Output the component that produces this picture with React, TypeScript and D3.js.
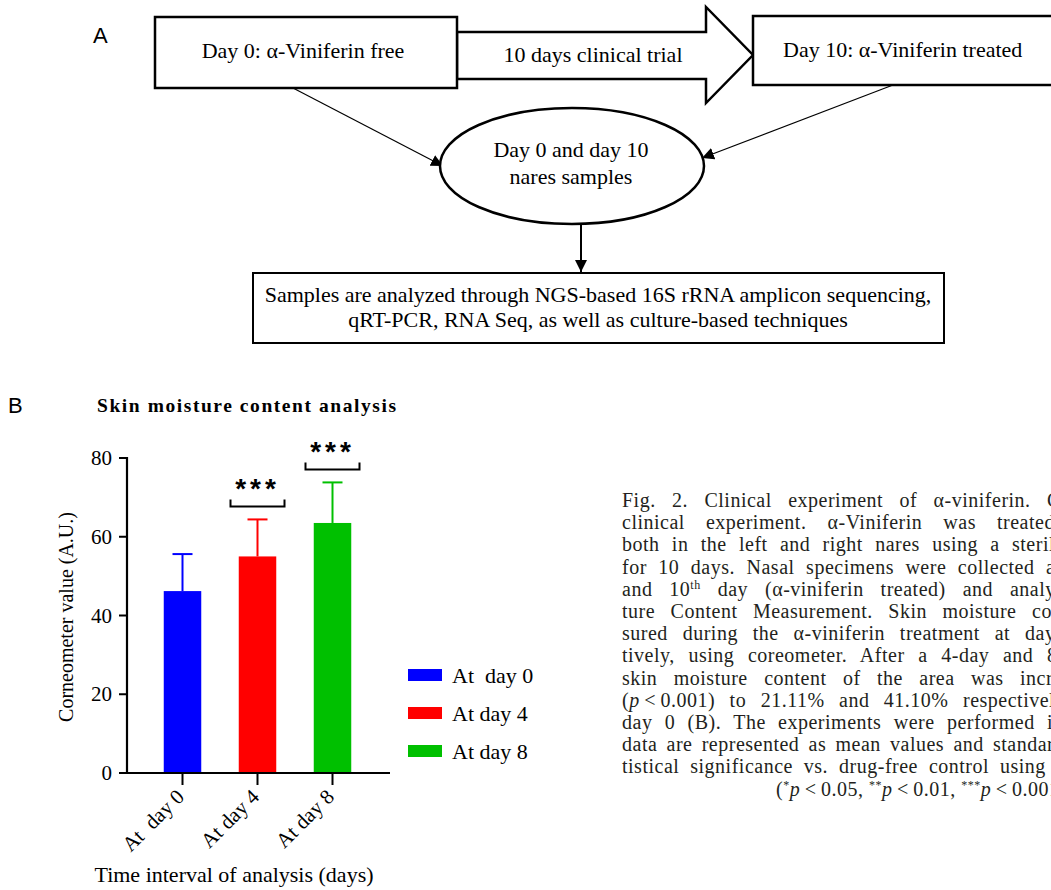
import React, { useEffect, useRef } from "react";
import * as d3 from "d3";

const categories = ["At  day 0", "At day 4", "At day 8"];
const legendLabels = ["At  day 0", "At day 4", "At day 8"];
const means = [46.2, 55.0, 63.5];
const sds = [9.4, 9.4, 10.3];
const barColors = ["#0000ff", "#ff0000", "#00c000"];
const yTicks = [0, 20, 40, 60, 80];
const sigPairs = [
  { idx: 1, label: "***" },
  { idx: 2, label: "***" },
];

const captionLines: { parts: { t: string; i?: boolean; sup?: boolean }[]; anchor: number | null; x?: number }[] = [
  { parts: [{ t: "Fig. 2. Clinical experiment of α-viniferin. Conceptual" }], anchor: 1047 },
  { parts: [{ t: "clinical experiment. α-Viniferin was treated" }], anchor: 997 },
  { parts: [{ t: "both in the left and right nares using a sterile" }], anchor: 1012 },
  { parts: [{ t: "for 10 days. Nasal specimens were collected at" }], anchor: 1046 },
  { parts: [{ t: "and 10" }, { t: "th", sup: true }, { t: " day (α-viniferin treated) and analyzed" }], anchor: 1010 },
  { parts: [{ t: "ture Content Measurement. Skin moisture content" }], anchor: 1032 },
  { parts: [{ t: "sured during the α-viniferin treatment at days" }], anchor: 1025 },
  { parts: [{ t: "tively, using coreometer. After a 4-day and 8-day" }], anchor: 1047 },
  { parts: [{ t: "skin moisture content of the area was increased" }], anchor: 1020 },
  { parts: [{ t: "(" }, { t: "p", i: true }, { t: "\u2009<\u20090.001) to 21.11% and 41.10% respectively" }], anchor: 963 },
  { parts: [{ t: "day 0 (B). The experiments were performed in" }], anchor: 1047 },
  { parts: [{ t: "data are represented as mean values and standard" }], anchor: 993 },
  { parts: [{ t: "tistical significance vs. drug-free control using" }], anchor: 1000 },
  {
    parts: [
      { t: "(" }, { t: "*", sup: true }, { t: "p", i: true }, { t: "\u2009<\u20090.05, " },
      { t: "**", sup: true }, { t: "p", i: true }, { t: "\u2009<\u20090.01, " },
      { t: "***", sup: true }, { t: "p", i: true }, { t: "\u2009<\u20090.001)" },
    ],
    anchor: null,
    x: 776,
  },
];

const serif = "'Liberation Serif', 'Times New Roman', serif";
const sans = "'Liberation Sans', Arial, sans-serif";
const SER = { fontFamily: serif };

export default function App() {
  const capRef = useRef<SVGGElement>(null);

  useEffect(() => {
    const g = capRef.current;
    if (!g) return;
    const texts = Array.from(g.querySelectorAll("text"));
    texts.forEach((el, i) => {
      const line = captionLines[i];
      if (!line || line.anchor == null) return;
      const content = el.textContent || "";
      const idx = content.lastIndexOf(" ") + 1;
      const nSpaces = (content.slice(0, idx).match(/ /g) || []).length;
      if (nSpaces === 0) return;
      const x0 = el.getStartPositionOfChar(idx).x;
      const ws = Math.max(0, (line.anchor - x0) / nSpaces);
      el.setAttribute("word-spacing", String(ws));
    });
  }, []);

  const x = d3.scaleBand<string>().domain(categories).range([145, 370]).paddingInner(0.5).paddingOuter(0.25);
  const y = d3.scaleLinear().domain([0, 80]).range([773, 458]);
  const axisX0 = 127;
  const axisX1 = 390;
  const fc = 22;

  return (
    <svg width={1051} height={890} style={{ position: "absolute", left: 0, top: 0, background: "#fff" }}>
      <defs>
        <marker id="ah" viewBox="0 0 10 10" refX="10" refY="5" markerWidth="12" markerHeight="12" markerUnits="userSpaceOnUse" orient="auto">
          <path d="M0,0 L10,5 L0,10 z" fill="#000" />
        </marker>
      </defs>
      <rect width={1051} height={890} fill="#fff" />

      {/* Panel A */}
      <text x={93} y={43} style={{ fontFamily: sans }} fontSize={22}>A</text>
      <polygon points="457,32 706,32 706,7 753,55 706,103 706,79 457,79" fill="#fff" stroke="#000" strokeWidth={2.5} />
      <rect x={155} y={17} width={302} height={71} fill="#fff" stroke="#000" strokeWidth={2.5} />
      <rect x={753} y={16} width={320} height={69} fill="#fff" stroke="#000" strokeWidth={2.5} />
      <text x={303} y={58} textAnchor="middle" style={SER} fontSize={fc}>Day 0: α-Viniferin free</text>
      <text x={593} y={62} textAnchor="middle" style={SER} fontSize={fc}>10 days clinical trial</text>
      <text x={783} y={57} style={SER} fontSize={fc}>Day 10: α-Viniferin treated</text>
      <line x1={293} y1={88} x2={443} y2={166} stroke="#000" strokeWidth={1.2} markerEnd="url(#ah)" />
      <line x1={893} y1={85} x2={702} y2={158} stroke="#000" strokeWidth={1.2} markerEnd="url(#ah)" />
      <ellipse cx={572} cy={166} rx={132} ry={58} fill="#fff" stroke="#000" strokeWidth={2.5} />
      <text x={571} y={157} textAnchor="middle" style={SER} fontSize={fc}>Day 0 and day 10</text>
      <text x={571} y={184} textAnchor="middle" style={SER} fontSize={fc}>nares samples</text>
      <line x1={581} y1={224} x2={581} y2={272} stroke="#000" strokeWidth={2} markerEnd="url(#ah)" />
      <rect x={253} y={273} width={691} height={70} fill="#fff" stroke="#000" strokeWidth={2} />
      <text x={598} y={302} textAnchor="middle" style={SER} fontSize={fc}>Samples are analyzed through NGS-based 16S rRNA amplicon sequencing,</text>
      <text x={598} y={327} textAnchor="middle" style={SER} fontSize={fc}>qRT-PCR, RNA Seq, as well as culture-based techniques</text>

      {/* Panel B */}
      <text x={8} y={413} style={{ fontFamily: sans }} fontSize={22}>B</text>
      <text x={97} y={412} style={SER} fontSize={19.5} fontWeight="bold" textLength={299} lengthAdjust="spacing">Skin moisture content analysis</text>

      {/* bars */}
      {categories.map((c, i) => {
        const bx = x(c)!;
        const bw = x.bandwidth();
        const cx = bx + bw / 2;
        return (
          <g key={c}>
            <line x1={cx} x2={cx} y1={y(means[i])} y2={y(means[i] + sds[i])} stroke={barColors[i]} strokeWidth={2} />
            <line x1={cx - 10} x2={cx + 10} y1={y(means[i] + sds[i])} y2={y(means[i] + sds[i])} stroke={barColors[i]} strokeWidth={2} />
            <rect x={bx} y={y(means[i])} width={bw} height={y(0) - y(means[i])} fill={barColors[i]} />
          </g>
        );
      })}

      {/* axes */}
      <line x1={axisX0} x2={axisX0} y1={y(0)} y2={y(80) - 1} stroke="#000" strokeWidth={2.2} />
      <line x1={axisX0 - 1} x2={axisX1} y1={y(0)} y2={y(0)} stroke="#000" strokeWidth={2.2} />
      {yTicks.map((t) => (
        <g key={t}>
          <line x1={axisX0 - 8} x2={axisX0} y1={y(t)} y2={y(t)} stroke="#000" strokeWidth={2} />
          <text x={axisX0 - 15} y={y(t) + 7} textAnchor="end" style={SER} fontSize={21}>{t}</text>
        </g>
      ))}
      {categories.map((c) => {
        const cx = x(c)! + x.bandwidth() / 2;
        const ax = cx + 3;
        const ay = y(0) + 25;
        return (
          <g key={c}>
            <line x1={cx} x2={cx} y1={y(0)} y2={y(0) + 12} stroke="#000" strokeWidth={2} />
            <text
              x={ax}
              y={ay}
              textAnchor="end"
              style={{ fontFamily: serif, whiteSpace: "pre" }}
              fontSize={21}
              transform={`rotate(-45 ${ax} ${ay})`}
            >
              {c}
            </text>
          </g>
        );
      })}
      <text x={73} y={617} textAnchor="middle" style={SER} fontSize={20} transform="rotate(-90 73 617)">Corneometer value (A.U.)</text>
      <text x={234} y={882} textAnchor="middle" style={SER} fontSize={22}>Time interval of analysis (days)</text>

      {/* significance */}
      {sigPairs.map((s) => {
        const c = categories[s.idx];
        const cx = x(c)! + x.bandwidth() / 2;
        const top = y(means[s.idx] + sds[s.idx]);
        const by = top - 13;
        const half = 27;
        return (
          <g key={c}>
            <path d={`M${cx - half},${by - 7} V${by} H${cx + half} V${by - 7}`} fill="none" stroke="#000" strokeWidth={2} />
            <text x={cx} y={by - 8} textAnchor="middle" style={{ fontFamily: sans }} fontSize={28} fontWeight="bold" letterSpacing={4}>{s.label}</text>
          </g>
        );
      })}

      {/* legend */}
      {legendLabels.map((l, i) => (
        <g key={l}>
          <rect x={408} y={669 + i * 38} width={34} height={12} fill={barColors[i]} />
          <text x={452} y={683 + i * 38} style={{ fontFamily: serif, whiteSpace: "pre" }} fontSize={22}>{l}</text>
        </g>
      ))}

      {/* caption */}
      <g ref={capRef}>
        {captionLines.map((ln, i) => (
          <text key={i} x={ln.x ?? 622} y={507 + i * 22.2} style={{ fontFamily: serif, whiteSpace: "pre" }} fontSize={20} letterSpacing={0.5} fill="#231f20">
            {ln.parts.map((p, j) => (
              <tspan
                key={j}
                fontStyle={p.i ? "italic" : undefined}
                fontSize={p.sup ? 12 : undefined}
                baselineShift={p.sup ? "super" : undefined}
              >
                {p.t}
              </tspan>
            ))}
          </text>
        ))}
      </g>
    </svg>
  );
}
